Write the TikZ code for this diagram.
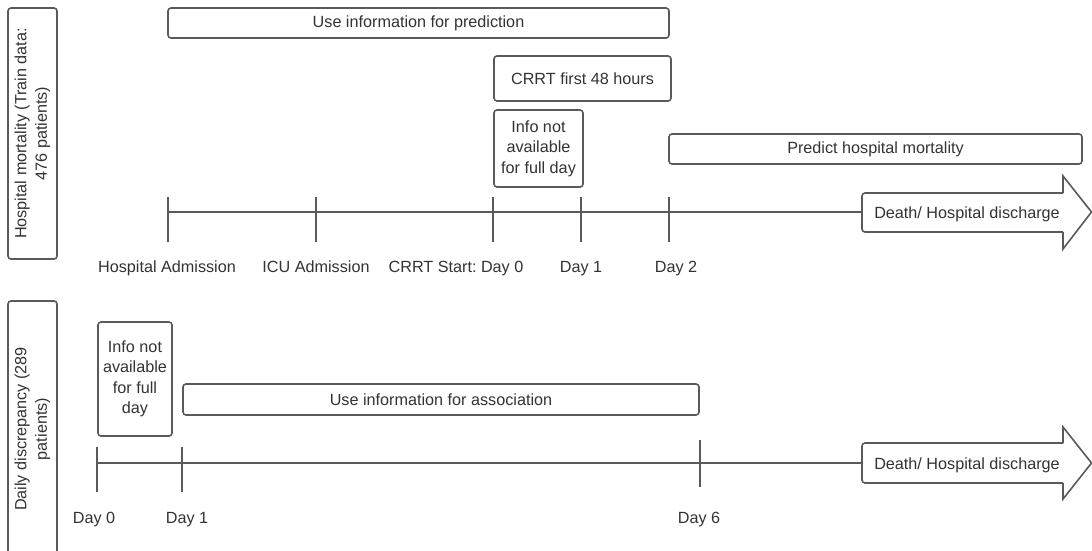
\documentclass[tikz,border=0pt]{standalone}
\usepackage{fontspec}
\setmainfont{Liberation Sans}
\frenchspacing
\definecolor{lc}{HTML}{5A5A5A}
\definecolor{tc}{HTML}{333333}
\begin{document}
\begin{tikzpicture}[x=1pt,y=-1pt,
  font=\fontsize{16.2}{20.5}\selectfont,
  box/.style={draw=lc, line width=1.6pt, rounded corners=3pt, text=tc, align=center, inner sep=0pt},
  lbl/.style={text=tc, inner sep=0pt, anchor=base},
  tl/.style={draw=lc, line width=1.6pt},
  arr/.style={draw=lc, line width=1.6pt, fill=white, line join=miter}]
\useasboundingbox (0,0) rectangle (1092,550);
\clip (0,0) rectangle (1092,550);
% side labels
\node[box, rotate=90, minimum width=251pt, minimum height=49pt] (side1) at (32.5,133.5) {Hospital mortality (Train data:\\476 patients)};
\node[box, rotate=90, minimum width=256pt, minimum height=49pt] (side2) at (32.5,429) {Daily discrepancy (289\\patients)};

% ---------- top timeline ----------
\node[box, minimum width=501pt, minimum height=30pt] (pred) at (418.5,23) {Use information for prediction};
\node[box, minimum width=177pt, minimum height=45pt] (crrt) at (582.5,78.5) {CRRT first 48 hours};
\node[box, minimum width=89pt, minimum height=77pt] (info1) at (538.5,148.5) {Info not\\available\\for full day};
\node[box, minimum width=413pt, minimum height=30pt] (predm) at (875.5,149) {Predict hospital mortality};

\coordinate (a0) at (168,212);
\coordinate (a1) at (316,212);
\coordinate (a2) at (493,212);
\coordinate (a3) at (581,212);
\coordinate (a4) at (669,212);
\coordinate (aend) at (862,212);
\draw[tl] (a0) -- (aend);
\foreach \c in {a0,a1,a2,a3,a4}{\draw[tl] ([yshift=15pt]\c) -- ([yshift=-30pt]\c);}
\draw[arr, rounded corners=3pt] (1063,193) -- (862,193) -- (862,232) -- (1063,232);
\draw[arr, fill=none] (1063,232) -- (1063,249) -- (1091.5,212) -- (1063,176) -- (1063,193);
\node[lbl] (d1) at (967,218) {Death/ Hospital discharge};
\node[lbl] (la0) at (167,272) {Hospital Admission};
\node[lbl] (la1) at (316,272) {ICU Admission};
\node[lbl] (la2) at (456,272) {CRRT Start: Day 0};
\node[lbl] (la3) at (581,272) {Day 1};
\node[lbl] (la4) at (676,272) {Day 2};

% ---------- bottom timeline ----------
\node[box, minimum width=74pt, minimum height=114pt] (info2) at (135,379) {Info not\\available\\for full\\day};
\node[box, minimum width=516pt, minimum height=31pt] (assoc) at (441,399.5) {Use information for association};

\coordinate (b0) at (97,463);
\coordinate (b1) at (182,463);
\coordinate (b2) at (700,463);
\coordinate (bend) at (862,463);
\draw[tl] (b0) -- (bend);
\draw[tl] (97,447) -- (97,492);
\draw[tl] (182,447) -- (182,492);
\draw[tl] (700,440) -- (700,487);
\draw[arr, rounded corners=3pt] (1063,443) -- (862,443) -- (862,483) -- (1063,483);
\draw[arr, fill=none] (1063,483) -- (1063,499) -- (1091.5,463) -- (1063,427) -- (1063,443);
\node[lbl] (d2) at (967,469) {Death/ Hospital discharge};
\node[lbl] (lb0) at (94,523) {Day 0};
\node[lbl] (lb1) at (187,523) {Day 1};
\node[lbl] (lb2) at (699,523) {Day 6};
\end{tikzpicture}
\end{document}
